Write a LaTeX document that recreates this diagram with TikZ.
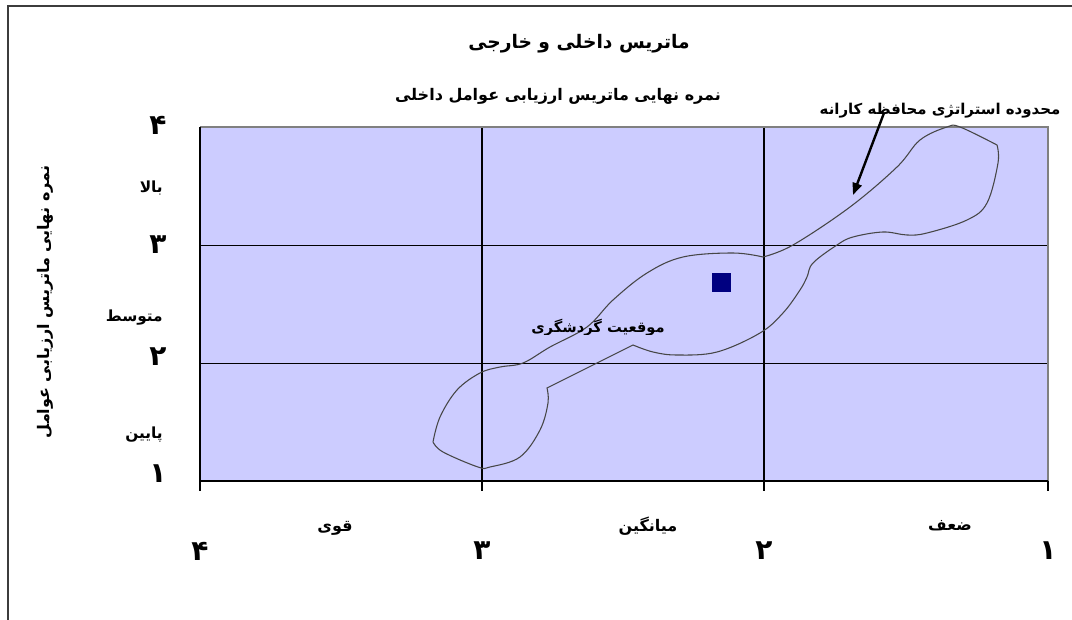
\documentclass[tikz,border=0pt]{standalone}
\usepackage{fontspec}
\usetikzlibrary{arrows.meta}
\TeXXeTstate=1
\newfontfamily\af[Script=Arabic]{DejaVu Sans}
\definecolor{plotbg}{RGB}{204,204,255}
\definecolor{navyc}{RGB}{0,0,128}
\definecolor{framec}{RGB}{60,60,60}
\definecolor{blobc}{RGB}{70,70,70}
\begin{document}
\begin{tikzpicture}[x=0.75pt,y=-0.75pt,
  ttl/.style={font=\af\bfseries\fontsize{12}{14}\selectfont, inner sep=0pt},
  lbl/.style={font=\af\bfseries\fontsize{11.5}{13}\selectfont, inner sep=0pt},
  big/.style={font=\af\bfseries\fontsize{12}{14}\selectfont, inner sep=0pt},
  dig/.style={font=\af\bfseries\fontsize{21}{23}\selectfont, inner sep=0pt},
  grid/.style={black, line width=0.6pt},
  vgrid/.style={black, line width=1.3pt},
  blob/.style={blobc, line width=0.8pt},
  pointer/.style={black, line width=1.8pt, -{Triangle[length=9pt,width=7pt]}}]
\useasboundingbox (0,0) rectangle (1072,620);
% outer frame
\draw[framec, line width=1.2pt] (8,622) -- (8,6) -- (1074,6);
% plot area
\fill[plotbg] (200,127) rectangle (1048,481);
\draw[grid] (200,245) -- (1048,245);
\draw[grid] (200,363) -- (1048,363);
\draw[vgrid] (482,127) -- (482,491);
\draw[vgrid] (764,127) -- (764,491);
\draw[gray, line width=1pt] (200,127) -- (1048,127) -- (1048,481);
\draw[black, line width=1pt] (200,127) -- (200,481) -- (1048,481);
\foreach \x in {200,1048} \draw[black, line width=0.8pt] (\x,481) -- (\x,491);
% blob region
\draw[blob] plot[smooth, tension=0.6] coordinates {(433,442) (440,417) (457,390) (480,373) (500,367) (523,363) (550,347) (587,327) (613,300) (647,273) (683,257) (733,253) (763,257)}
  -- plot[smooth, tension=0.6] coordinates {(763,257) (793,245) (850,207) (897,167) (920,140) (947,127) (960,127) (997,145)}
  -- plot[smooth, tension=0.6] coordinates {(997,145) (998,163) (987,203) (967,220) (927,233) (907,235) (883,232) (853,237) (837,245) (813,263) (807,277) (800,290) (783,313) (760,333) (717,352) (677,355) (653,352) (633,345)}
  -- (567,378) -- (547,388)
  -- plot[smooth, tension=0.6] coordinates {(547,388) (548,403) (540,430) (520,457) (490,467) (478,467) (443,452) (433,442)};
% marker
\node[fill=navyc, minimum size=14.5pt, inner sep=0pt] (pt) at (721.5,282.5) {};
% titles
\node[ttl, font=\af\bfseries\fontsize{14}{16}\selectfont] (t1) at (579,44) {\beginR ماتریس داخلی و خارجی\endR};
\node[ttl] (t2) at (558,96) {\beginR نمره نهایی ماتریس ارزیابی عوامل داخلی\endR};
% pointer label
\node[lbl, font=\af\bfseries\fontsize{11.2}{13}\selectfont] (note) at (940,111) {\beginR محدوده استراتژی محافظه کارانه\endR};
\coordinate (arrS) at (884,113);
\coordinate (arrE) at (853,195);
\draw[pointer] (arrS) -- (arrE);
% centre text (clipped at baseline)
\begin{scope}
\clip (500,300) rectangle (700,335);
\node[big, anchor=base, font=\af\bfseries\fontsize{11}{13}\selectfont] (cur) at (598,333) {\beginR موقعیت گردشگری\endR};
\end{scope}
% y axis
\node[dig] (y4) at (158,125) {\beginR ۴\endR};
\node[dig] (y3) at (158,245) {\beginR ۳\endR};
\node[dig] (y2) at (158,357) {\beginR ۲\endR};
\node[dig] (y1) at (158,474) {\beginR ۱\endR};
\node[lbl, anchor=east] (hi) at (163,188) {\beginR بالا\endR};
\node[lbl, anchor=east] (mid) at (163,318) {\beginR متوسط\endR};
\node[lbl, anchor=east] (lo) at (163,435) {\beginR پایین\endR};
\node[big, rotate=90] (ytitle) at (45,302) {\beginR نمره نهایی ماتریس ارزیابی عوامل\endR};
% x axis
\node[dig] (x4) at (200,551) {\beginR ۴\endR};
\node[dig] (x3) at (482,551) {\beginR ۳\endR};
\node[dig] (x2) at (764,551) {\beginR ۲\endR};
\node[dig] (x1) at (1048,551) {\beginR ۱\endR};
\begin{scope}
\clip (250,505) rectangle (1050,534);
\node[big, anchor=base] (strong) at (335,532) {\beginR قوی\endR};
\node[big, anchor=base] (avg) at (648,532) {\beginR میانگین\endR};
\node[big, anchor=base] (weak) at (950,530) {\beginR ضعف\endR};
\end{scope}
\end{tikzpicture}
\end{document}
